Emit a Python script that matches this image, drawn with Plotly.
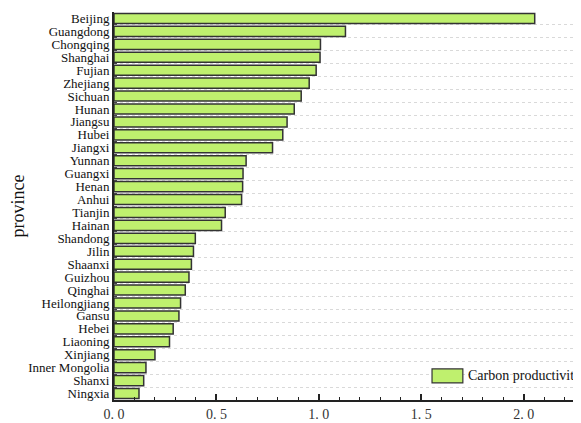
import plotly.graph_objects as go

provinces = ["Beijing", "Guangdong", "Chongqing", "Shanghai", "Fujian", "Zhejiang",
             "Sichuan", "Hunan", "Jiangsu", "Hubei", "Jiangxi", "Yunnan", "Guangxi",
             "Henan", "Anhui", "Tianjin", "Hainan", "Shandong", "Jilin", "Shaanxi",
             "Guizhou", "Qinghai", "Heilongjiang", "Gansu", "Hebei", "Liaoning",
             "Xinjiang", "Inner Mongolia", "Shanxi", "Ningxia"]
carbon_productivity = [2.054, 1.13, 1.008, 1.006, 0.987, 0.953, 0.914, 0.88, 0.845, 0.824,
                       0.774, 0.645, 0.63, 0.628, 0.623, 0.543, 0.525, 0.397, 0.388, 0.378,
                       0.366, 0.348, 0.325, 0.317, 0.289, 0.271, 0.2, 0.156, 0.145, 0.122]
x_tickvals = [0.0, 0.5, 1.0, 1.5, 2.0]
x_ticktext = ["0. 0", "0. 5", "1. 0", "1. 5", "2. 0"]
series_name = "Carbon productivity"

SERIF = "Liberation Serif, Times New Roman, serif"
BAR_FILL = "#bff06e"
BAR_LINE = "#333333"

fig = go.Figure()
fig.add_trace(go.Bar(
    y=provinces, x=carbon_productivity, orientation="h",
    name=series_name, showlegend=False,
    marker=dict(color=BAR_FILL, line=dict(color=BAR_LINE, width=1.5)),
))

# legend drawn as swatch + label (wide swatch like the reference)
fig.add_shape(type="rect", xref="paper", yref="paper",
              x0=0.681, x1=0.747, y0=0.044, y1=0.080,
              fillcolor=BAR_FILL, line=dict(color=BAR_LINE, width=1.2))
fig.add_annotation(text=series_name, xref="paper", yref="paper",
                   x=0.754, y=0.062, xanchor="left", yanchor="middle",
                   showarrow=False, font=dict(family=SERIF, size=14, color="#111111"))

fig.update_layout(
    width=573, height=415,
    margin=dict(l=106, r=0, t=4, b=23),
    paper_bgcolor="white", plot_bgcolor="white",
    font=dict(family=SERIF, size=13, color="#111111"),
    bargap=0.22,
)
fig.update_xaxes(
    range=[0, 2.28], tickvals=x_tickvals, ticktext=x_ticktext,
    showgrid=False, zeroline=False,
    showline=True, linecolor="#222222", linewidth=2,
    ticks="inside", ticklen=6, tickcolor="#222222", tickwidth=1.5,
    minor=dict(dtick=0.1, ticks="inside", ticklen=3, tickcolor="#222222", tickwidth=1.2, showgrid=False),
    tickfont=dict(size=14, color="#333333", family=SERIF),
)
fig.update_yaxes(
    type="category", categoryorder="array", categoryarray=provinces,
    autorange="reversed", dtick=1,
    tickson="boundaries",
    showgrid=True, gridcolor="#d9d9d9", griddash="dot", gridwidth=1,
    showline=True, linecolor="#222222", linewidth=2,
    ticks="inside", ticklen=3, tickcolor="#444444",
    title=dict(text="province", font=dict(size=18, family=SERIF), standoff=8),
    tickfont=dict(size=13, family=SERIF, color="#111111"),
)

fig.write_html("out.html")
